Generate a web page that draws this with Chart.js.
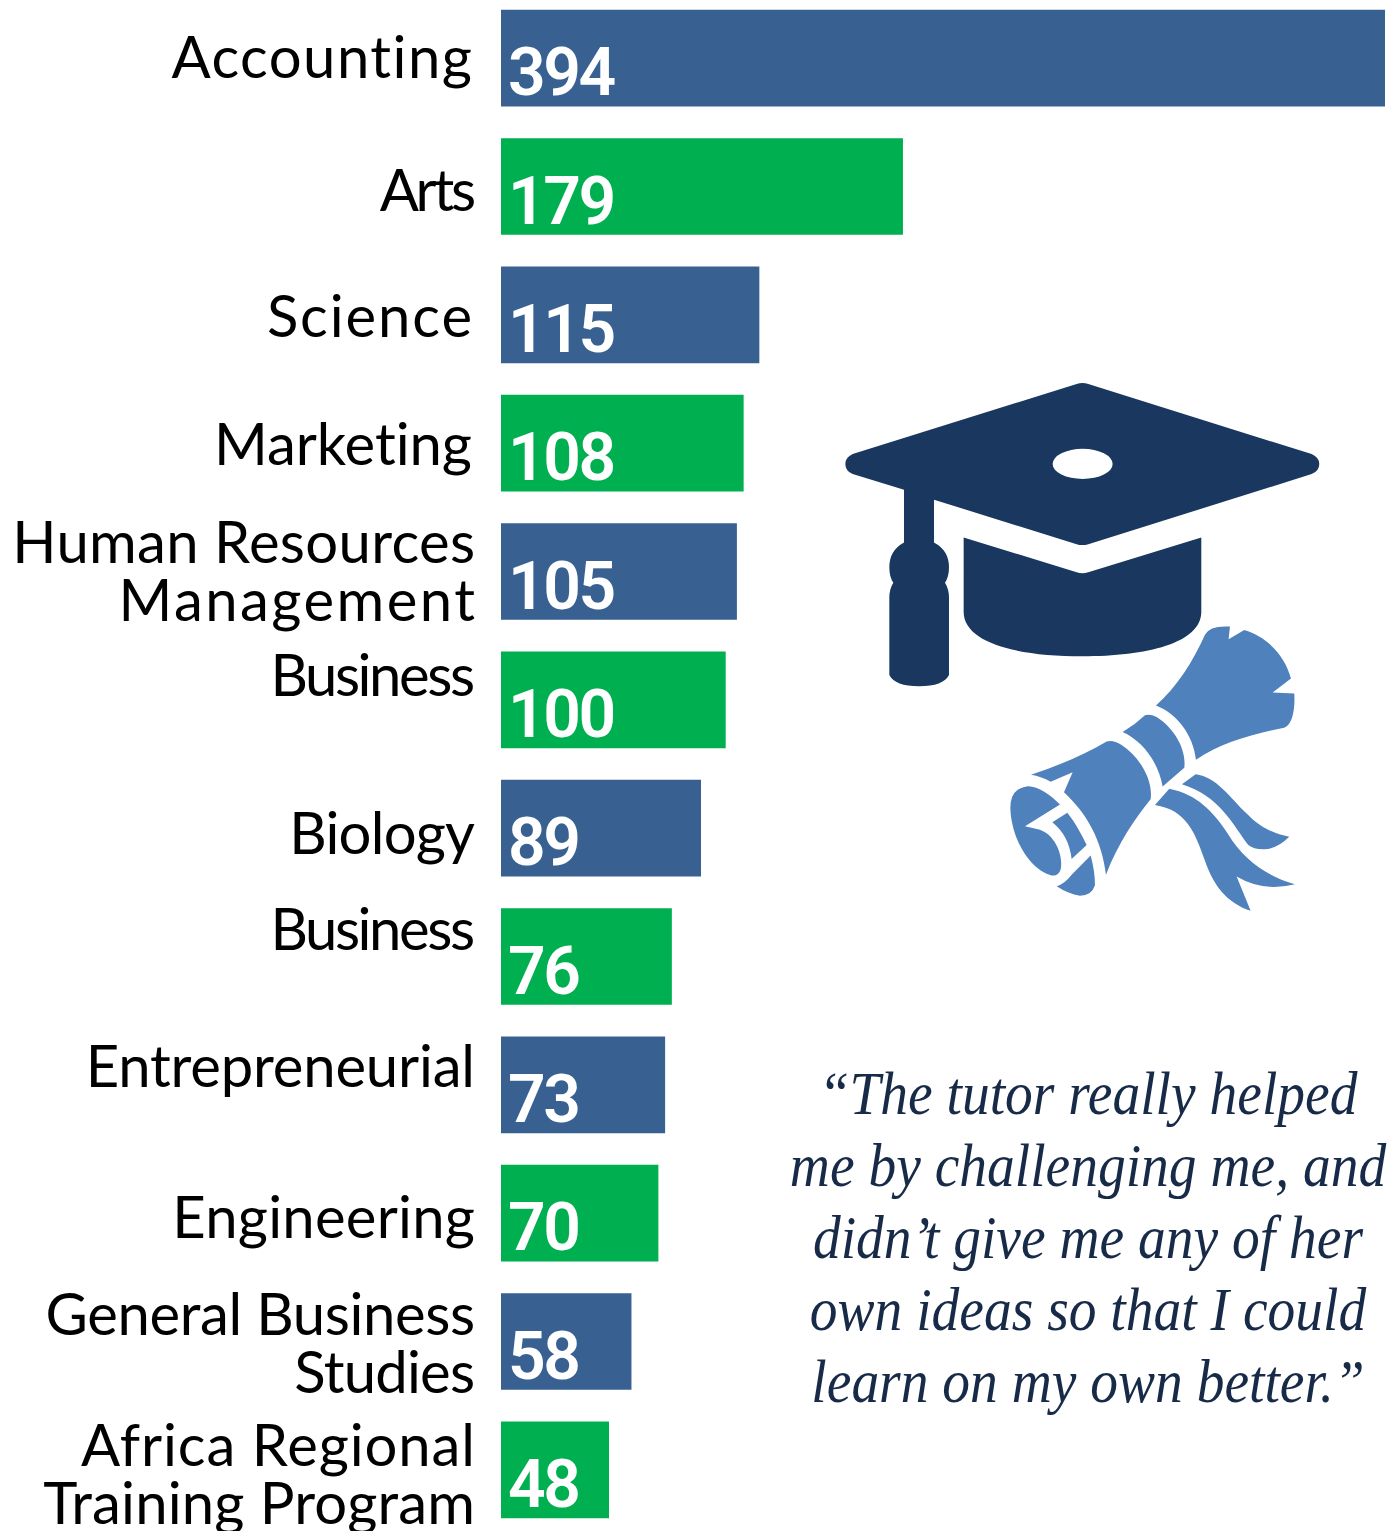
<!DOCTYPE html>
<html>
<head>
<meta charset="utf-8">
<title>Tutored subjects</title>
<script src="https://cdn.jsdelivr.net/npm/chart.js@4/dist/chart.umd.min.js"></script>
<style>
html, body { margin: 0; padding: 0; background: #fff; }
body { position: relative; width: 1390px; height: 1531px; overflow: hidden; }
#wrap { position: absolute; left: 0; top: -6px; width: 1390px; height: 1540px; }
#icons { position: absolute; left: 0; top: 0; }
#quote {
    position: absolute; left: 753px; top: 1057px; width: 670px;
    font: italic 62px/72px "Liberation Serif", serif; color: #172a47;
    text-align: center; white-space: pre; transform: scaleX(0.895);
}
</style>
</head>
<body>
<div id="wrap"><canvas id="chart"></canvas></div>
<svg id="icons" width="1390" height="1531">
    <g transform="translate(830 370) scale(0.3333 0.3505)">
        <g fill="#19375f" fill-rule="evenodd">
            <path d="M740 40 Q757 34 775 40 L1445 240 Q1468 250 1468 268 Q1468 288 1445 297 L775 497 Q757 502 740 497 L312 370 L312 492 Q357 515 357 562 Q357 590 345 607 Q357 625 357 650 L357 870 Q340 902 267 902 Q195 902 178 870 L178 650 Q178 625 190 607 Q178 590 178 562 Q178 515 222 492 L222 342 L68 297 Q46 288 46 268 Q46 250 68 240 Z M668 268 A90 43 0 1 0 848 268 A90 43 0 1 0 668 268 Z"/>
            <path d="M401 478 L740 577 Q757 583 775 577 L1114 478 L1114 690 C1114 780 950 817 757 817 C565 817 401 780 401 690 Z"/>
        </g>
        <g fill="#4f81bd">
            <path d="M978 957 C1040 905 1090 830 1125 755 Q1140 728 1200 732 L1196 768 L1243 742 C1310 760 1365 815 1383 880 L1328 920 L1393 923 C1396 975 1385 1020 1355 1022 C1260 1040 1170 1065 1098 1112 C1090 1040 1040 980 978 957 Z"/>
            <path d="M878 1033 Q915 1012 945 985 Q960 980 980 990 C1030 1020 1070 1080 1063 1135 L998 1188 C985 1120 940 1060 878 1033 Z"/>
            <path d="M603 1155 C680 1130 760 1100 830 1060 Q850 1055 875 1070 C930 1105 970 1170 962 1225 C915 1280 865 1350 828 1440 C815 1340 770 1265 702 1205 L728 1148 L662 1175 Q635 1160 603 1155 Z"/>
            <path d="M590 1188 C620 1185 660 1210 690 1240 L585 1302 L630 1312 C680 1330 700 1390 692 1425 Q685 1445 665 1442 C600 1425 545 1340 541 1250 Q541 1195 590 1188 Z"/>
            <path d="M712 1263 C735 1290 755 1325 770 1355 L725 1395 C720 1350 700 1315 667 1290 Z"/>
            <path d="M782 1385 Q795 1430 795 1470 Q785 1500 750 1500 Q715 1495 680 1473 Q705 1465 725 1440 Z"/>
            <path d="M1097 1153 C1160 1160 1200 1220 1250 1265 C1290 1305 1330 1322 1378 1332 Q1340 1368 1300 1367 Q1270 1367 1255 1355 C1210 1300 1170 1215 1056 1182 Z"/>
            <path d="M1018 1195 C1100 1210 1150 1260 1195 1325 C1240 1395 1310 1445 1395 1467 Q1300 1490 1220 1445 L1262 1543 C1190 1520 1150 1470 1125 1400 C1095 1320 1070 1255 975 1241 Z"/>
        </g>
    </g>
</svg>
<div id="quote"></div>
<script>
const categories = [
    ['Accounting'], ['Arts'], ['Science'], ['Marketing'],
    ['Human Resources', 'Management'], ['Business'], ['Biology'], ['Business'],
    ['Entrepreneurial'], ['Engineering'], ['General Business', 'Studies'],
    ['Africa Regional', 'Training Program'],
];
const students = [394, 179, 115, 108, 105, 100, 89, 76, 73, 70, 58, 48];
const quoteLines = [
    '\u201CThe tutor really helped',
    'me by challenging me, and',
    'didn\u2019t give me any of her',
    'own ideas so that I could',
    'learn on my own better.\u201D',
];

// the labels in the original sit a bit off the bar centres
const labelShiftY = [0, 4, 2, 2, 0, -24, 6, -27, -18, 5, 2, 5];
const labelRight = [472, 476, 472, 472, 475, 475, 475, 475, 475, 475, 475, 475];
// original font has other proportions, so each line is spaced out to its read width
const labelWidths = [
    [303], [93], [207], [259], [463, 359], [202], [185], [202], [389], [303], [429, 180], [395, 432],
];
const BLUE = '#386192';
const GREEN = '#00b050';

document.getElementById('quote').textContent = quoteLines.join('\n');

const textPlugin = {
    id: 'barText',
    afterDatasetsDraw(chart) {
        const ctx = chart.ctx;
        const bars = chart.getDatasetMeta(0).data;
        ctx.save();
        ctx.textBaseline = 'alphabetic';
        categories.forEach((lines, i) => {
            const mid = chart.scales.y.getPixelForValue(i) + labelShiftY[i];
            ctx.font = '400 58px Lato';
            ctx.fillStyle = '#000';
            ctx.textAlign = 'right';
            lines.forEach((line, n) => {
                ctx.letterSpacing = '0px';
                const extra = (labelWidths[i][n] - ctx.measureText(line).width) / line.length;
                ctx.letterSpacing = extra.toFixed(2) + 'px';
                // trailing letter spacing would push the right edge off
                ctx.fillText(line, labelRight[i] + extra, mid + 20 + (n - (lines.length - 1) / 2) * 58);
            });
            ctx.font = '600 66px Roboto';
            ctx.fillStyle = '#fff';
            ctx.textAlign = 'left';
            ctx.letterSpacing = '-2.5px';
            ctx.fillText(String(students[i]), bars[i].base + 7, bars[i].y + 37);
        });
        ctx.restore();
    },
};

new Chart(document.getElementById('chart').getContext('2d'), {
    type: 'bar',
    data: {
        labels: categories,
        datasets: [{
            data: students,
            backgroundColor: students.map((v, i) => (i % 2 ? GREEN : BLUE)),
            barThickness: 96,
        }],
    },
    options: {
        indexAxis: 'y',
        responsive: true,
        maintainAspectRatio: false,
        animation: false,
        layout: { padding: { left: 501, right: 5 } },
        plugins: { legend: { display: false }, tooltip: { enabled: false } },
        scales: {
            x: { display: false, min: 0, max: 394 },
            y: { display: false },
        },
    },
    plugins: [textPlugin],
});
</script>
</body>
</html>
